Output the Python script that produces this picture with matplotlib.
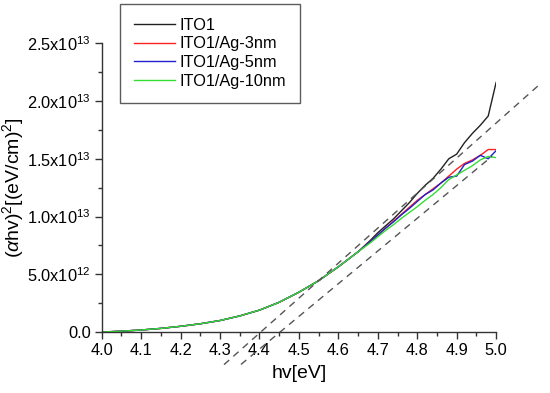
import matplotlib
matplotlib.use("Agg")
import matplotlib.pyplot as plt
import numpy as np

plt.rcParams['font.family'] = ['Liberation Sans', 'DejaVu Sans']
plt.rcParams['mathtext.fontset'] = 'custom'
plt.rcParams['mathtext.rm'] = 'Liberation Sans'
plt.rcParams['mathtext.it'] = 'Liberation Sans:italic'

# photon energy (eV)
hv = [4.00, 4.05, 4.10, 4.15, 4.20, 4.25, 4.30, 4.35, 4.40, 4.45, 4.50, 4.55, 4.60, 4.65,
      4.68, 4.70, 4.72, 4.74, 4.76, 4.78, 4.80, 4.82, 4.84, 4.86, 4.88, 4.90, 4.92, 4.94,
      4.96, 4.98, 5.00]

# (alpha*hv)^2 in units of 1e12 (eV/cm)^2
common = [0.00, 0.08, 0.18, 0.32, 0.50, 0.72, 1.00, 1.40, 1.90, 2.58, 3.45, 4.45, 5.65, 6.95]
ito1 = common + [7.9, 8.6, 9.2, 9.8, 10.5, 11.2, 12.0, 12.7, 13.3, 14.1, 15.0, 15.4, 16.4,
                 17.2, 17.9, 18.7, 21.6]
ag3 = common + [7.8, 8.4, 9.0, 9.6, 10.2, 10.8, 11.4, 11.9, 12.4, 12.9, 13.5, 14.1, 14.6,
                14.9, 15.3, 15.8, 15.8]
ag5 = common + [7.8, 8.4, 9.0, 9.55, 10.15, 10.7, 11.3, 11.9, 12.3, 12.9, 13.4, 13.5, 14.5,
                14.8, 15.3, 15.0, 15.7]
ag10 = common + [7.7, 8.25, 8.8, 9.3, 9.85, 10.35, 10.85, 11.4, 11.9, 12.5, 13.2, 13.6, 14.0,
                 14.4, 14.9, 15.2, 15.1]

labels = ['ITO1', 'ITO1/Ag-3nm', 'ITO1/Ag-5nm', 'ITO1/Ag-10nm']
colors = ['#222222', '#ff2020', '#2020cc', '#33dd33']

# tangent (Tauc) fit lines: x range, x-intercept, slope (1e12 per eV)
fit_x = [[4.31, 5.11], [4.353, 4.99]]
fit_x0 = [4.403, 4.452]
fit_slope = [30.3, 28.3]

yticks = [0, 5e12, 1e13, 1.5e13, 2e13, 2.5e13]
ytick_labels = ['0.0', r'5.0x10$^{12}$', r'1.0x10$^{13}$', r'1.5x10$^{13}$',
                r'2.0x10$^{13}$', r'2.5x10$^{13}$']
xticks = [4.0, 4.1, 4.2, 4.3, 4.4, 4.5, 4.6, 4.7, 4.8, 4.9, 5.0]

fig = plt.figure(figsize=(5.5, 3.93), dpi=100)
ax = fig.add_axes([0.185, 0.155, 0.717, 0.735])

x = np.array(hv)
for ys, lab, c in zip([ito1, ag3, ag5, ag10], labels, colors):
    ax.plot(x, np.array(ys) * 1e12, color=c, lw=1.0, label=lab)

for (xa, xb), x0, k in zip(fit_x, fit_x0, fit_slope):
    xs = np.array([xa, xb])
    ax.plot(xs, k * (xs - x0) * 1e12, color='#555555', lw=1.0,
            dashes=(5, 4), clip_on=False)

ax.set_xlim(4.0, 5.0)
ax.set_ylim(0, 2.5e13)
ax.set_xticks(xticks)
ax.set_xticklabels([f'{v:.1f}' for v in xticks])
ax.set_xticks(np.arange(4.05, 5.0, 0.1), minor=True)
ax.set_yticks(yticks)
ax.set_yticklabels(ytick_labels)
ax.set_yticks(np.arange(2.5e12, 2.5e13, 5e12), minor=True)

ax.spines['top'].set_visible(False)
ax.spines['right'].set_visible(False)
for s in ['left', 'bottom']:
    ax.spines[s].set_color('#333333')
    ax.spines[s].set_linewidth(1.0)
ax.tick_params(which='major', direction='out', length=5, width=1, labelsize=11.8,
               pad=3, color='#333333')
ax.tick_params(which='minor', direction='out', length=3, width=1, color='#333333')

ax.set_xlabel('hv[eV]', fontsize=14, labelpad=5)
ax.set_ylabel(r'($\alpha$hv)$^2$[(eV/cm)$^2$]', fontsize=14, labelpad=1)

leg = ax.legend(loc='upper left', bbox_to_anchor=(0.218, 0.99),
                bbox_transform=fig.transFigure, fontsize=11.8, frameon=True,
                fancybox=False, edgecolor='#333333', handlelength=2.5,
                handletextpad=0.3, labelspacing=0.22, borderpad=0.85,
                borderaxespad=0)
leg.get_frame().set_linewidth(1.0)

fig.savefig('out.png', dpi=100)
